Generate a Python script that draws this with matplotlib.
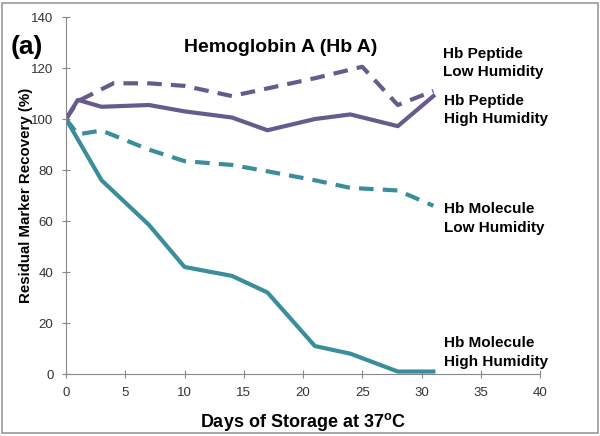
import matplotlib
matplotlib.use("Agg")
import matplotlib.pyplot as plt
from matplotlib.patches import Rectangle

plt.rcParams['font.family'] = ['Liberation Sans', 'DejaVu Sans']

days = [0, 1, 4, 7, 10, 14, 17, 21, 25, 28, 31]
pep_low = [100, 107, 114, 114, 113, 109, 112, 116, 120.5, 105.5, 111]
days_ph = [0, 1, 3, 7, 10, 14, 17, 21, 24, 28, 31]
pep_high = [100, 107.5, 104.8, 105.5, 103, 100.6, 95.6, 100, 101.8, 97.2, 109]
days_ml = [0, 1, 3, 7, 10, 14, 17, 21, 24, 28, 31]
mol_low = [100, 94, 95.5, 88, 83.5, 82, 79.5, 76, 73, 72, 66]
days_mh = [0, 3, 7, 10, 14, 17, 21, 24, 28, 31]
mol_high = [100, 76, 58.5, 42, 38.5, 32, 11, 8, 1, 1]

purple = '#675a8c'
teal = '#3a8d9a'

fig = plt.figure(figsize=(6, 4.36), dpi=100)
ax = fig.add_axes([0.11, 0.142, 0.79, 0.819])

ax.plot(days, pep_low, color=purple, lw=3, ls=(0, (3.5, 2.2)), dash_capstyle='butt')
ax.plot(days_ph, pep_high, color=purple, lw=3)
ax.plot(days_ml, mol_low, color=teal, lw=3, ls=(0, (3.5, 2.2)), dash_capstyle='butt')
ax.plot(days_mh, mol_high, color=teal, lw=3)

ax.set_xlim(0, 40)
ax.set_ylim(0, 140)
ax.set_xticks(range(0, 41, 5))
ax.set_yticks(range(0, 141, 20))
for s in ['top', 'right']:
    ax.spines[s].set_visible(False)
for s in ['left', 'bottom']:
    ax.spines[s].set_color('#888888')
    ax.spines[s].set_linewidth(0.8)
ax.tick_params(direction='inout', length=6, color='#888888', labelsize=9.5, labelcolor='#333333', pad=6)

ax.set_xlabel('Days of Storage at 37$^{\\mathregular{o}}$C', fontsize=13, fontweight='bold', labelpad=9)
ax.set_ylabel('Residual Marker Recovery (%)', fontsize=10.8, fontweight='bold')
ax.yaxis.set_label_coords(-0.07, 0.5)

lab_kw = dict(fontsize=11, fontweight='bold', color='black', va='center', ha='left', linespacing=1.4)
ax.text(31.8, 122, 'Hb Peptide\nLow Humidity', **lab_kw)
ax.text(31.9, 103.5, 'Hb Peptide\nHigh Humidity', **lab_kw)
ax.text(31.9, 61, 'Hb Molecule\nLow Humidity', **lab_kw)
ax.text(31.9, 8.5, 'Hb Molecule\nHigh Humidity', **lab_kw)

fig.text(0.467, 0.892, 'Hemoglobin A (Hb A)', fontsize=14, fontweight='bold', ha='center', va='center')
fig.text(0.017, 0.892, '(a)', fontsize=19, fontweight='bold', ha='left', va='center')

fig.patches.append(Rectangle((0.004, 0.006), 0.992, 0.988, transform=fig.transFigure,
                             fill=False, edgecolor='#999999', lw=1.2))

fig.savefig('out.png', dpi=100)
